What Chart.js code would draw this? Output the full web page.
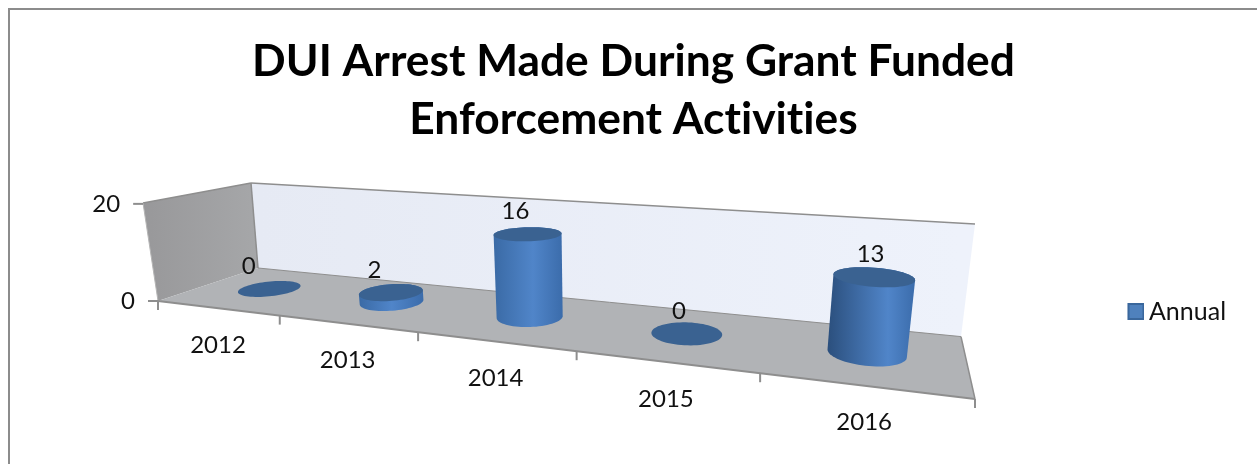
<!DOCTYPE html>
<html>
<head>
<meta charset="utf-8">
<title>DUI Arrest Made During Grant Funded Enforcement Activities</title>
<script src="https://cdn.jsdelivr.net/npm/chart.js@4"></script>
<style>
  html, body { margin: 0; padding: 0; background: #ffffff; }
  #wrap { position: relative; width: 1257px; height: 464px; overflow: hidden; }
  #frame { position: absolute; left: 8px; top: 8px; width: 1300px; height: 500px; border: 2px solid #8c8c8c; }
  canvas { position: absolute; left: 0; top: 0; }
</style>
</head>
<body>
<div id="wrap">
  <div id="frame"></div>
  <canvas id="chart" width="1257" height="464"></canvas>
</div>
<script>
const years = ["2012", "2013", "2014", "2015", "2016"];
const annual = [0, 2, 16, 0, 13];
const yTicks = [0, 20];
const titleLines = ["DUI Arrest Made During Grant Funded", "Enforcement Activities"];
const seriesName = "Annual";

// floor corners on screen, and where the walls' verticals converge
const floorCorners = { fl: [158, 301], fr: [975, 399], bl: [258, 268], br: [961, 336.6] };
const vanish = [602, 3205];
const wallTop = { fl: [143, 203], bl: [251, 183], br: [975, 224] };

// square to quad mapping for the floor plane
function floorMatrix(q) {
  const [x0, y0] = q.fl, [x1, y1] = q.fr, [x2, y2] = q.br, [x3, y3] = q.bl;
  const dx1 = x1 - x2, dx2 = x3 - x2, sx = x0 - x1 + x2 - x3;
  const dy1 = y1 - y2, dy2 = y3 - y2, sy = y0 - y1 + y2 - y3;
  const den = dx1 * dy2 - dx2 * dy1;
  const g = (sx * dy2 - dx2 * sy) / den;
  const h = (dx1 * sy - sx * dy1) / den;
  return [x1 - x0 + g * x1, x3 - x0 + h * x3, x0, y1 - y0 + g * y1, y3 - y0 + h * y3, y0, g, h, 1];
}
const H = floorMatrix(floorCorners);

function homog(u, d) {
  return [H[0] * u + H[1] * d + H[2], H[3] * u + H[4] * d + H[5], H[6] * u + H[7] * d + H[8]];
}

// weight of the vertical direction, taken from the back right wall edge
const lift = (function () {
  const [X, Y, W] = homog(1, 1);
  const py = Y / W;
  const t = (wallTop.br[1] - py) / (vanish[1] - py);
  return (t * W) / (1 - t);
})();

function project(u, d, h) {
  const [X, Y, W] = homog(u, d);
  const k = h * lift;
  return [(X + k * vanish[0]) / (W + k), (Y + k * vanish[1]) / (W + k)];
}

function poly(ctx, pts) {
  ctx.beginPath();
  pts.forEach((p, i) => (i ? ctx.lineTo(p[0], p[1]) : ctx.moveTo(p[0], p[1])));
  ctx.closePath();
}

function line(ctx, a, b, color, width) {
  ctx.strokeStyle = color;
  ctx.lineWidth = width;
  ctx.beginPath();
  ctx.moveTo(a[0], a[1]);
  ctx.lineTo(b[0], b[1]);
  ctx.stroke();
}

function convexHull(points) {
  const pts = points.slice().sort((a, b) => a[0] - b[0] || a[1] - b[1]);
  const cross = (o, a, b) => (a[0] - o[0]) * (b[1] - o[1]) - (a[1] - o[1]) * (b[0] - o[0]);
  const lower = [], upper = [];
  for (const p of pts) {
    while (lower.length > 1 && cross(lower[lower.length - 2], lower[lower.length - 1], p) <= 0) lower.pop();
    lower.push(p);
  }
  for (const p of pts.slice().reverse()) {
    while (upper.length > 1 && cross(upper[upper.length - 2], upper[upper.length - 1], p) <= 0) upper.pop();
    upper.push(p);
  }
  return lower.slice(0, -1).concat(upper.slice(0, -1));
}

// bar controller that draws each bar as a cylinder standing on the floor plane
class CylinderController extends Chart.BarController {
  draw() {
    const chart = this.chart, ctx = chart.ctx, area = chart.chartArea;
    const depthRadius = 0.22;
    this.getMeta().data.forEach((bar) => {
      const u = (bar.x - area.left) / area.width;
      const h = (area.bottom - bar.y) / area.height;
      const ru = bar.width / 2 / area.width;
      const bottom = [], top = [];
      for (let i = 0; i < 72; i++) {
        const a = (i / 72) * Math.PI * 2;
        const cu = u + ru * Math.cos(a), cd = 0.52 + depthRadius * Math.sin(a);
        bottom.push(project(cu, cd, 0));
        top.push(project(cu, cd, h));
      }
      ctx.save();
      if (h > 0) {
        const hull = convexHull(bottom.concat(top));
        const xs = hull.map((p) => p[0]);
        const x0 = Math.min(...xs), x1 = Math.max(...xs);
        const peak = 0.42 + 0.3 * u;
        const grad = ctx.createLinearGradient(x0, 0, x1, 0);
        grad.addColorStop(0, u > 0.7 ? "#2b4f7d" : "#3a6aa5");
        grad.addColorStop(peak, "#5085c9");
        grad.addColorStop(1, "#3b6cab");
        ctx.fillStyle = grad;
        poly(ctx, hull);
        ctx.fill();
      }
      ctx.fillStyle = "#3a6291";
      poly(ctx, top);
      ctx.fill();
      ctx.restore();
    });
  }
}
CylinderController.id = "cylinder";
CylinderController.defaults = Chart.BarController.defaults;
CylinderController.overrides = Chart.BarController.overrides;
Chart.register(CylinderController);

// small legend swatch, so the label can sit close to it
const legendSwatch = document.createElement("canvas");
legendSwatch.width = 17;
legendSwatch.height = 17;
(function () {
  const c = legendSwatch.getContext("2d");
  c.fillStyle = "#4f81bd";
  c.fillRect(0, 0, 17, 17);
  c.strokeStyle = "#3a679c";
  c.lineWidth = 2;
  c.strokeRect(1, 1, 15, 15);
})();

// walls, floor and axis furniture, painted under the bars
const roomPlugin = {
  id: "room",
  beforeDraw(chart) {
    // keeps "ti" from turning into a ligature in the title
    chart.ctx.letterSpacing = "0.01px";
  },
  beforeDatasetsDraw(chart) {
    const ctx = chart.ctx, area = chart.chartArea;
    const fl = project(0, 0, 0), fr = project(1, 0, 0), bl = project(0, 1, 0), br = project(1, 1, 0);
    const tfl = wallTop.fl, tbl = wallTop.bl, tbr = wallTop.br;
    const edge = "#8e8e8e";

    let g = ctx.createLinearGradient(bl[0], 0, br[0], 0);
    g.addColorStop(0, "#e6eaf4");
    g.addColorStop(1, "#eef2fb");
    ctx.fillStyle = g;
    poly(ctx, [bl, br, tbr, tbl]);
    ctx.fill();

    g = ctx.createLinearGradient(tfl[0], 0, bl[0], 0);
    g.addColorStop(0, "#98989a");
    g.addColorStop(1, "#a6a7a9");
    ctx.fillStyle = g;
    poly(ctx, [fl, bl, tbl, tfl]);
    ctx.fill();

    ctx.fillStyle = "#b1b3b6";
    poly(ctx, [fl, fr, br, bl]);
    ctx.fill();

    line(ctx, tfl, tbl, edge, 1.5);
    line(ctx, tbl, tbr, edge, 1.5);
    line(ctx, tbl, bl, edge, 1.5);
    line(ctx, tfl, fl, "#b5b5b5", 1);
    line(ctx, bl, br, edge, 1);
    line(ctx, fl, fr, edge, 2);
    line(ctx, br, fr, edge, 1.5);

    const xScale = chart.scales.x, yScale = chart.scales.y;
    ctx.save();
    ctx.font = "24px Lato, 'Noto Sans', sans-serif";
    ctx.fillStyle = "#111111";

    // value axis ticks and labels on the front edge of the side wall
    ctx.textAlign = "right";
    ctx.textBaseline = "middle";
    yScale.ticks.forEach((t) => {
      const h = (area.bottom - yScale.getPixelForValue(t.value)) / area.height;
      const p = project(0, 0, h);
      line(ctx, p, [p[0] - 10, p[1]], edge, 2);
      ctx.fillText(t.label, p[0] - 23, p[1]);
    });

    // category ticks along the front of the floor, labels centred between them
    ctx.textAlign = "center";
    years.forEach((year, i) => {
      const cx = xScale.getPixelForValue(i);
      const step = area.width / years.length;
      const p = project((cx - area.left) / area.width, 0, 0);
      ctx.fillText(year, p[0] + 1, p[1] + 37);
      const left = project((cx - step / 2 - area.left) / area.width, 0, 0);
      line(ctx, left, [left[0], left[1] + 9], edge, 2);
      if (i === years.length - 1) {
        line(ctx, fr, [fr[0], fr[1] + 9], edge, 2);
      }
    });
    ctx.restore();
  },
  afterDatasetsDraw(chart) {
    const ctx = chart.ctx, area = chart.chartArea;
    const meta = chart.getDatasetMeta(0);
    ctx.save();
    ctx.font = "24px Lato, 'Noto Sans', sans-serif";
    ctx.fillStyle = "#111111";
    ctx.textAlign = "center";
    ctx.textBaseline = "middle";
    meta.data.forEach((bar, i) => {
      const u = (bar.x - area.left) / area.width;
      const h = (area.bottom - bar.y) / area.height;
      const p = project(u, 0.5, h);
      ctx.fillText(String(annual[i]), p[0] - 21 + 20 * u, p[1] - 23);
    });
    ctx.restore();
  }
};

new Chart(document.getElementById("chart"), {
  type: "cylinder",
  data: {
    labels: years,
    datasets: [{
      label: seriesName,
      data: annual,
      backgroundColor: "#4f81bd",
      borderColor: "#3a679c",
      borderWidth: 2,
      barPercentage: 0.41,
      categoryPercentage: 1,
      clip: false
    }]
  },
  options: {
    responsive: false,
    animation: false,
    layout: { padding: { top: 33, right: 21, left: 31, bottom: 132 } },
    scales: {
      x: { display: false, offset: true },
      y: { display: false, min: yTicks[0], max: yTicks[1], ticks: { stepSize: 20 } }
    },
    plugins: {
      tooltip: { enabled: false },
      title: {
        display: true,
        text: titleLines,
        color: "#000000",
        font: { family: "Lato, 'Noto Sans', sans-serif", size: 44.3, weight: "bold", lineHeight: 1.31 },
        padding: { top: 0, bottom: 10 }
      },
      legend: {
        position: "right",
        align: "end",
        labels: {
          color: "#111111",
          font: { family: "Lato, 'Noto Sans', sans-serif", size: 25 },
          usePointStyle: true,
          pointStyleWidth: 1,
          padding: 8,
          generateLabels(chart) {
            return Chart.defaults.plugins.legend.labels.generateLabels(chart)
              .map((item) => ({ ...item, pointStyle: legendSwatch }));
          }
        }
      }
    }
  },
  plugins: [roomPlugin]
});
</script>
</body>
</html>
